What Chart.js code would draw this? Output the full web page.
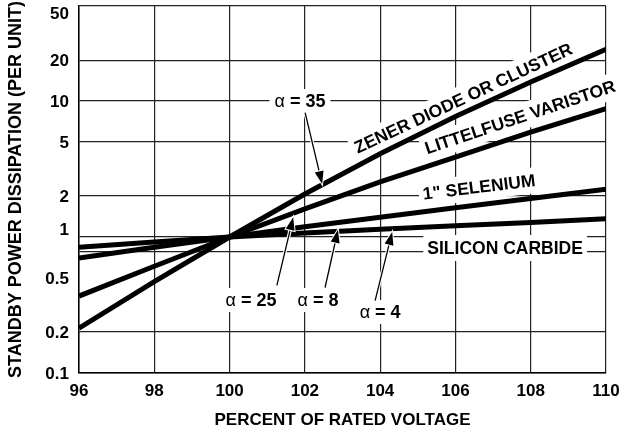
<!DOCTYPE html>
<html>
<head>
<meta charset="utf-8">
<script src="https://cdn.jsdelivr.net/npm/chart.js@4.4.1/dist/chart.umd.min.js"></script>
<style>
  html, body { margin: 0; padding: 0; background: #fff; }
  #wrap { width: 624px; height: 427px; position: relative; }
</style>
</head>
<body>
<div id="wrap"><canvas id="chart"></canvas></div>
<script>
// values (per unit power vs percent of rated voltage)
const voltage = [96, 98, 100, 102, 104, 106, 108, 110];
const zenerDiode = [0.214, 0.47, 1, 2.07, 4.1, 7.7, 13.8, 24];
const varistor = [0.368, 0.61, 1, 1.61, 2.54, 3.87, 5.9, 8.8];
const selenium = [0.70, 0.84, 1, 1.19, 1.40, 1.64, 1.92, 2.25];
const siliconCarbide = [0.84, 0.92, 1, 1.07, 1.14, 1.21, 1.28, 1.36];

const xTicks = [96, 98, 100, 102, 104, 106, 108, 110];
const yTicks = [0.1, 0.2, 0.5, 0.78, 1, 2, 5, 10, 20, 50];
const yTickLabels = ['0.1', '0.2', '0.5', '', '1', '2', '5', '10', '20', '50'];

// curve names: text, x, y (data units), angle in degrees
const curveNames = ['ZENER DIODE OR CLUSTER', 'LITTELFUSE VARISTOR', '1" SELENIUM', 'SILICON CARBIDE'];
const curveNameX = [106.21, 107.72, 106.63, 107.32];
const curveNameY = [10.5, 7.63, 2.33, 0.83];
const curveNameAngle = [-25, -18.5, -7, 0];

// alpha callouts: value, label position, arrow start and tip (data units)
const alphaValues = ['35', '25', '8', '4'];
const alphaX = [101.87, 100.57, 102.35, 104.0];
const alphaY = [10, 0.344, 0.344, 0.281];
const arrowFrom = [[102.01, 8.16], [101.26, 0.444], [102.54, 0.429], [103.87, 0.344]];
const arrowTo = [[102.46, 2.45], [101.69, 1.40], [102.88, 1.13], [104.32, 1.09]];

const FONT = "'Liberation Sans', Arial, Helvetica, sans-serif";
// the 50 and 1 labels sit a little off their grid lines in the original
const yLabelNudge = { 50: 7, 1: -8 };

function arrow(ctx, x0, y0, x1, y1) {
  const a = Math.atan2(y1 - y0, x1 - x0);
  const len = 13, half = 4.5;
  const bx = x1 - len * Math.cos(a), by = y1 - len * Math.sin(a);
  ctx.lineCap = 'round';
  ctx.strokeStyle = '#fff';
  ctx.lineWidth = 3.5;
  ctx.beginPath(); ctx.moveTo(x0, y0); ctx.lineTo(bx, by); ctx.stroke();
  ctx.strokeStyle = '#000';
  ctx.lineWidth = 1.3;
  ctx.beginPath(); ctx.moveTo(x0, y0); ctx.lineTo(bx, by); ctx.stroke();
  ctx.beginPath();
  ctx.moveTo(x1, y1);
  ctx.lineTo(bx + half * Math.sin(a), by - half * Math.cos(a));
  ctx.lineTo(bx - half * Math.sin(a), by + half * Math.cos(a));
  ctx.closePath();
  ctx.lineWidth = 2;
  ctx.strokeStyle = '#fff';
  ctx.stroke();
  ctx.fillStyle = '#000';
  ctx.fill();
}

function alphaParts(ctx, value) {
  ctx.font = '18px ' + FONT;
  const wa = ctx.measureText('\u03B1').width;
  ctx.font = 'bold 18px ' + FONT;
  const wb = ctx.measureText(' = ' + value).width;
  return { wa, wb, w: wa + wb };
}

const annotations = {
  id: 'annotations',
  beforeDatasetsDraw(chart) {
    const { ctx, scales: { x, y } } = chart;
    ctx.save();
    ctx.fillStyle = '#fff';
    curveNames.forEach((t, i) => {
      ctx.font = 'bold 17.5px ' + FONT;
      const w = ctx.measureText(t).width;
      ctx.save();
      ctx.translate(x.getPixelForValue(curveNameX[i]), y.getPixelForValue(curveNameY[i]));
      ctx.rotate(curveNameAngle[i] * Math.PI / 180);
      ctx.fillRect(-w / 2 - 4, -13, w + 8, 26);
      ctx.restore();
    });
    alphaValues.forEach((v, i) => {
      const p = alphaParts(ctx, v);
      const cx = x.getPixelForValue(alphaX[i]), cy = y.getPixelForValue(alphaY[i]);
      ctx.fillStyle = '#fff';
      ctx.fillRect(cx - p.w / 2 - 5, cy - 12, p.w + 10, 24);
    });
    ctx.restore();
  },
  afterDatasetsDraw(chart) {
    const { ctx, chartArea, scales: { x, y } } = chart;
    ctx.save();
    ctx.fillStyle = '#000';
    ctx.textBaseline = 'middle';

    // y tick labels
    ctx.font = 'bold 17px ' + FONT;
    ctx.textAlign = 'right';
    yTicks.forEach((v, i) => {
      if (!yTickLabels[i]) return;
      ctx.fillText(yTickLabels[i], chartArea.left - 10, y.getPixelForValue(v) + 1 + (yLabelNudge[v] || 0));
    });

    curveNames.forEach((t, i) => {
      ctx.font = 'bold 17.5px ' + FONT;
      ctx.textAlign = 'center';
      ctx.save();
      ctx.translate(x.getPixelForValue(curveNameX[i]), y.getPixelForValue(curveNameY[i]));
      ctx.rotate(curveNameAngle[i] * Math.PI / 180);
      ctx.fillText(t, 0, 1);
      ctx.restore();
    });
    alphaValues.forEach((v, i) => {
      const p = alphaParts(ctx, v);
      const cx = x.getPixelForValue(alphaX[i]), cy = y.getPixelForValue(alphaY[i]);
      ctx.textAlign = 'left';
      ctx.fillStyle = '#000';
      ctx.font = '18px ' + FONT;
      ctx.fillText('\u03B1', cx - p.w / 2, cy + 1);
      ctx.font = 'bold 18px ' + FONT;
      ctx.fillText(' = ' + v, cx - p.w / 2 + p.wa, cy + 1);
      arrow(ctx,
        x.getPixelForValue(arrowFrom[i][0]), y.getPixelForValue(arrowFrom[i][1]),
        x.getPixelForValue(arrowTo[i][0]), y.getPixelForValue(arrowTo[i][1]));
    });
    ctx.restore();
  }
};

function series(values) {
  return voltage.map((v, i) => ({ x: v, y: values[i] }));
}

const lineStyle = {
  borderColor: '#000',
  borderWidth: 5,
  pointRadius: 0,
  fill: false,
  tension: 0
};

new Chart(document.getElementById('chart'), {
  type: 'line',
  data: {
    datasets: [
      { label: 'Zener diode or cluster', data: series(zenerDiode), ...lineStyle },
      { label: 'Littelfuse varistor', data: series(varistor), ...lineStyle },
      { label: '1" selenium', data: series(selenium), ...lineStyle },
      { label: 'Silicon carbide', data: series(siliconCarbide), ...lineStyle }
    ]
  },
  options: {
    responsive: true,
    maintainAspectRatio: false,
    animation: false,
    layout: { padding: { top: 6, right: 18, bottom: 0, left: 0 } },
    plugins: {
      legend: { display: false },
      tooltip: { enabled: false }
    },
    scales: {
      x: {
        type: 'linear',
        min: 96,
        max: 110,
        afterBuildTicks: (scale) => { scale.ticks = xTicks.map(v => ({ value: v })); },
        afterFit: (scale) => {
          scale.height = 54;
          scale.paddingLeft = 0;
          scale.paddingRight = 0;
        },
        grid: { color: '#222', lineWidth: 1.2, drawTicks: false },
        border: { color: '#000', width: 1.5 },
        ticks: {
          padding: 8,
          color: '#000',
          font: { family: FONT, size: 17, weight: 'bold' }
        },
        title: {
          display: true,
          text: 'PERCENT OF RATED VOLTAGE',
          color: '#000',
          padding: { top: 0, bottom: -4 },
          font: { family: FONT, size: 17, weight: 'bold' }
        }
      },
      y: {
        type: 'logarithmic',
        min: 0.1,
        max: 50,
        afterBuildTicks: (scale) => { scale.ticks = yTicks.map(v => ({ value: v })); },
        afterFit: (scale) => {
          scale.width = 79;
          scale.paddingTop = 0;
          scale.paddingBottom = 0;
        },
        grid: {
          color: (c) => (c.tick && c.tick.value === 0.5 ? 'rgba(0,0,0,0)' : '#222'),
          lineWidth: 1.2,
          drawTicks: false
        },
        border: { color: '#000', width: 1.5 },
        ticks: { display: false },
        title: {
          display: true,
          text: 'STANDBY POWER DISSIPATION (PER UNIT)',
          color: '#000',
          padding: { top: 5, bottom: 0 },
          font: { family: FONT, size: 18, weight: 'bold' }
        }
      }
    }
  },
  plugins: [annotations]
});
</script>
</body>
</html>
